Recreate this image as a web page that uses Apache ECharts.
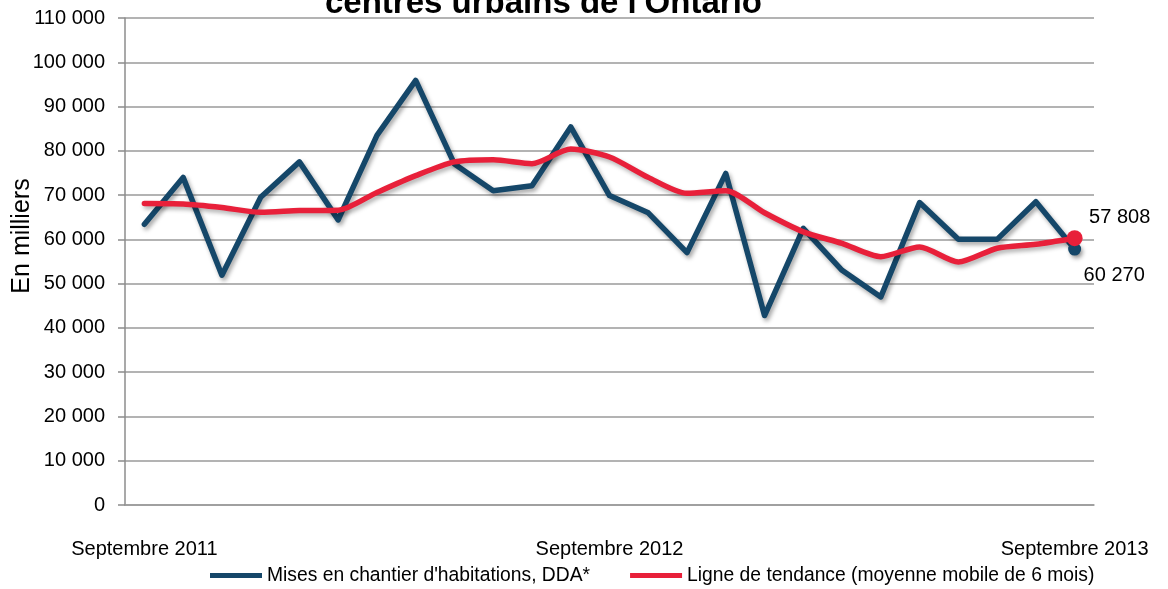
<!DOCTYPE html>
<html>
<head>
<meta charset="utf-8">
<script src="https://cdn.jsdelivr.net/npm/echarts@6/dist/echarts.min.js"></script>
<style>html,body{margin:0;padding:0;background:#fff}#c{width:1168px;height:589px}</style>
</head>
<body>
<div id="c"></div>
<script>
var categories = ['Septembre 2011','Octobre 2011','Novembre 2011','Décembre 2011','Janvier 2012','Février 2012','Mars 2012','Avril 2012','Mai 2012','Juin 2012','Juillet 2012','Août 2012','Septembre 2012','Octobre 2012','Novembre 2012','Décembre 2012','Janvier 2013','Février 2013','Mars 2013','Avril 2013','Mai 2013','Juin 2013','Juillet 2013','Août 2013','Septembre 2013'];
var mises = [63400, 74000, 51900, 69500, 77500, 64400, 83500, 95900, 77000, 71000, 72100, 85400, 69900, 66000, 57000, 74900, 42800, 62500, 53000, 47000, 68300, 60000, 60000, 68500, 57808];
var tendance = [68100, 68000, 67200, 66100, 66500, 66600, 70600, 74400, 77500, 78000, 77100, 80400, 78600, 74000, 70400, 71000, 66000, 61700, 59100, 56100, 58300, 54900, 58000, 58900, 60270];
var seriesNames = ["Mises en chantier d'habitations, DDA*", 'Ligne de tendance (moyenne mobile de 6 mois)'];
var titleText = "centres urbains de l'Ontario";
var yName = 'En milliers';

function fmt(v){ return String(v).replace(/\B(?=(\d{3})+(?!\d))/g, ' '); }
var FONT = '"Liberation Sans", Arial, sans-serif';

function lastMarked(arr, size, labelCfg){
  return arr.map(function(v, i){
    if (i !== arr.length - 1) return v;
    return { value: v, symbolSize: size, label: labelCfg };
  });
}

var chart = echarts.init(document.getElementById('c'), null, {renderer: 'canvas'});
chart.setOption({
  animation: false,
  title: {
    text: titleText, left: 325, top: -13, padding: 0,
    textStyle: { fontFamily: FONT, fontSize: 33, fontWeight: 'bold', color: '#000' }
  },
  graphic: [{
    type: 'text', x: 22, y: 236, rotation: Math.PI / 2,
    style: { text: yName, fontFamily: FONT, fontSize: 25, fill: '#000', align: 'center', verticalAlign: 'middle' }
  }],
  legend: {
    data: seriesNames, left: 205, top: 561, itemGap: 40, itemWidth: 52, itemHeight: 5, icon: 'rect',
    textStyle: { fontFamily: FONT, fontSize: 19.3, color: '#000' }
  },
  grid: { left: 125, right: 74, top: 18, bottom: 84, containLabel: false },
  xAxis: {
    type: 'category', data: categories, boundaryGap: true,
    axisLine: { show: true, lineStyle: { color: '#9a9a9a', width: 1.5 } },
    axisTick: { show: false },
    axisLabel: { interval: 11, margin: 34, fontFamily: FONT, fontSize: 20, color: '#000' }
  },
  yAxis: {
    type: 'value', min: 0, max: 110000, interval: 10000,
    axisLine: { show: true, lineStyle: { color: '#8c8c8c', width: 1.5 } },
    axisTick: { show: true, length: 7, lineStyle: { color: '#8c8c8c', width: 1.5 } },
    splitLine: { lineStyle: { color: '#9a9a9a', width: 1.5 } },
    axisLabel: { margin: 20, fontFamily: FONT, fontSize: 20, color: '#000', formatter: fmt }
  },
  series: [{
    name: seriesNames[0], type: 'line',
    data: lastMarked(mises, 13, { show: true, position: 'right', distance: 5, offset: [3, -32], formatter: function(p){ return fmt(p.value); }, fontFamily: FONT, fontSize: 20, color: '#000' }),
    symbol: 'circle', symbolSize: 0, showSymbol: true,
    itemStyle: { color: '#154769', shadowColor: 'rgba(0,0,0,0.35)', shadowBlur: 4, shadowOffsetX: 2, shadowOffsetY: 3 },
    lineStyle: { color: '#154769', width: 5.5, cap: 'round', join: 'round', shadowColor: 'rgba(0,0,0,0.35)', shadowBlur: 4, shadowOffsetX: 2, shadowOffsetY: 3 },
    label: { show: false },
    emphasis: { disabled: true }
  }, {
    name: seriesNames[1], type: 'line', smooth: 0.25,
    data: lastMarked(tendance, 16, { show: true, position: 'right', distance: 5, offset: [-4, 37], formatter: function(p){ return fmt(p.value); }, fontFamily: FONT, fontSize: 20, color: '#000' }),
    symbol: 'circle', symbolSize: 0, showSymbol: true,
    itemStyle: { color: '#e8203a' },
    lineStyle: { color: '#e8203a', width: 5.5, cap: 'round', join: 'round', shadowColor: 'rgba(0,0,0,0.3)', shadowBlur: 4, shadowOffsetX: 2, shadowOffsetY: 3 },
    label: { show: false },
    emphasis: { disabled: true }
  }]
});
</script>
</body>
</html>
